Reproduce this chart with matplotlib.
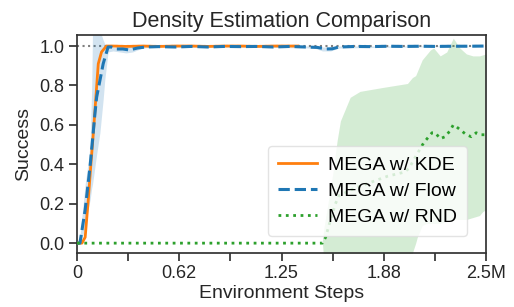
import numpy as np
import matplotlib
matplotlib.use("Agg")
import matplotlib.pyplot as plt

plt.rcParams['font.family'] = ['Liberation Sans', 'DejaVu Sans']

M = 1e6
title = "Density Estimation Comparison"
xlabel = "Environment Steps"
ylabel = "Success"
series_names = ["MEGA w/ KDE", "MEGA w/ Flow", "MEGA w/ RND"]
xtick_vals = [0, 0.3125, 0.625, 0.9375, 1.25, 1.5625, 1.875, 2.1875, 2.5]
xtick_labels = ["0", "", "0.62", "", "1.25", "", "1.88", "", "2.5M"]
ytick_vals = [0.0, 0.2, 0.4, 0.6, 0.8, 1.0]

# KDE (orange), x in millions of steps
kde_x = [0, 0.03, 0.05, 0.069, 0.084, 0.1, 0.13, 0.15, 0.18, 0.22, 0.3, 0.4, 0.5, 0.6, 0.7, 0.8, 0.9, 1.0, 1.1, 1.2, 1.35]
kde_y = [0, 0.0, 0.03, 0.22, 0.39, 0.56, 0.91, 0.97, 1.0, 1.0, 0.998, 1.0, 0.998, 1.0, 1.0, 0.998, 1.0, 1.0, 0.998, 1.0, 1.0]

# Flow (blue)
flow_x = [0, 0.018, 0.05, 0.08, 0.11, 0.12, 0.16, 0.19, 0.21, 0.24, 0.28, 0.32, 0.37, 0.42, 0.5, 0.6, 0.7, 0.8, 0.9, 1.0,
          1.1, 1.2, 1.3, 1.4, 1.47, 1.52, 1.56, 1.6, 1.7, 1.8, 1.9, 2.0, 2.1, 2.2, 2.3, 2.4, 2.5]
flow_y = [0, 0.0, 0.17, 0.39, 0.66, 0.74, 0.91, 0.995, 0.995, 0.985, 0.985, 0.98, 0.99, 0.995, 0.997, 0.995, 0.998, 0.995, 0.998, 0.997,
          0.998, 0.995, 0.998, 0.995, 0.993, 0.985, 0.986, 0.995, 0.998, 0.997, 0.999, 0.998, 0.999, 0.998, 0.999, 0.999, 1.0]
flow_band_x = [0, 0.02, 0.05, 0.07, 0.08, 0.09, 0.095, 0.1, 0.12, 0.14, 0.16, 0.17, 0.19, 0.22, 0.26, 0.3, 0.34, 0.4, 0.5,
               1.0, 1.45, 1.5, 1.55, 1.6, 2.0, 2.5]
flow_lo = [0, 0, 0.08, 0.18, 0.22, 0.28, 0.3, 0.33, 0.45, 0.56, 0.73, 0.83, 0.97, 0.975, 0.97, 0.965, 0.97, 0.99, 0.995,
           0.995, 0.99, 0.975, 0.975, 0.99, 0.995, 1.0]
flow_hi = [0, 0.05, 0.3, 0.42, 0.5, 0.8, 1.08, 1.1, 1.1, 1.08, 1.03, 1.01, 1.005, 0.995, 0.995, 0.995, 1.0, 1.0, 1.0,
           1.0, 1.0, 0.995, 0.995, 1.0, 1.0, 1.0]

# RND (green)
rnd_x = [0, 0.5, 1.0, 1.5, 1.52, 1.55, 1.58, 1.6, 1.7, 1.8, 1.9, 2.0, 2.03, 2.07, 2.12, 2.15, 2.17, 2.19, 2.22, 2.25,
         2.28, 2.30, 2.32, 2.35, 2.38, 2.41, 2.44, 2.47, 2.5]
rnd_y = [0, 0, 0, 0, 0.03, 0.12, 0.2, 0.24, 0.28, 0.31, 0.34, 0.36, 0.38, 0.44, 0.51, 0.54, 0.56, 0.56, 0.53, 0.54,
         0.57, 0.60, 0.59, 0.57, 0.55, 0.54, 0.56, 0.55, 0.55]
rnd_band_x = [0, 1.49, 1.5, 1.51, 1.53, 1.565, 1.59, 1.61, 1.67, 1.73, 1.87, 2.02, 2.04, 2.05, 2.07, 2.08, 2.10, 2.11,
              2.14, 2.16, 2.18, 2.22, 2.26, 2.30, 2.34, 2.38, 2.42, 2.46, 2.48, 2.5]
rnd_lo = [0, 0, 0, -0.1, -0.3, -0.3, -0.3, -0.3, -0.3, -0.3, -0.3, -0.3, -0.2, -0.05, 0.0, 0.03, 0.07, 0.09,
          0.10, 0.10, 0.10, 0.10, 0.11, 0.12, 0.12, 0.12, 0.13, 0.14, 0.16, 0.17]
rnd_hi = [0, 0, 0.01, 0.08, 0.18, 0.36, 0.52, 0.62, 0.74, 0.77, 0.79, 0.81, 0.83, 0.84, 0.85, 0.87, 0.91, 0.93,
          0.96, 0.98, 0.99, 0.95, 0.97, 1.04, 0.99, 0.96, 0.95, 0.95, 0.955, 0.96]

fig = plt.figure(figsize=(5.14, 3.07), dpi=100)
ax = fig.add_axes([77/514, 1-253/307, (486-77)/514, (253-35)/307])

def sx(v):
    return np.asarray(v) * M

ax.axhline(1.0, color='gray', ls=':', lw=1.5, zorder=1)

ax.fill_between(sx(flow_band_x), flow_lo, flow_hi, color='#1f77b4', alpha=0.2, lw=0, zorder=2)
ax.fill_between(sx(rnd_band_x), rnd_lo, rnd_hi, color='#2ca02c', alpha=0.2, lw=0, zorder=2)

ax.plot(sx(kde_x), kde_y, color='#ff7f0e', lw=2, ls='-', label=series_names[0], zorder=3)
ax.plot(sx(flow_x), flow_y, color='#1f77b4', lw=2.2, ls='--', label=series_names[1], zorder=4)
ax.plot(sx(rnd_x), rnd_y, color='#2ca02c', lw=2, ls=':', label=series_names[2], zorder=4)

ax.set_xlim(0, 2.5 * M)
ax.set_ylim(-0.05, 1.056)
ax.set_xticks(sx(xtick_vals))
ax.set_xticklabels(xtick_labels)
ax.set_yticks(ytick_vals)
ax.set_yticklabels([f"{v:.1f}" for v in ytick_vals])

for s in ax.spines.values():
    s.set_color('#333333')
    s.set_linewidth(1.25)
ax.tick_params(axis='both', length=6, width=1.25, color='#333333', labelsize=13, labelcolor='#262626', pad=3)

ax.set_title(title, fontsize=15.5, color='#262626', pad=6)
ax.set_xlabel(xlabel, fontsize=14, color='#262626', labelpad=2)
ax.set_ylabel(ylabel, fontsize=14, color='#262626', labelpad=5)

leg = ax.legend(loc='lower right', bbox_to_anchor=((467-77)/409, (253-236)/218), borderaxespad=0,
                fontsize=14, frameon=True, fancybox=True, framealpha=0.8, edgecolor='#dddddd',
                handlelength=2.0, labelspacing=0.45, borderpad=0.5, handletextpad=0.6)

fig.savefig('out.png', dpi=100)
